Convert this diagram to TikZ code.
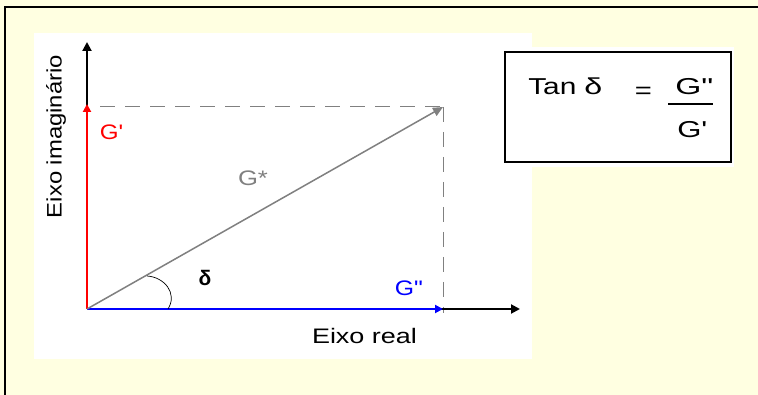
\documentclass[tikz,border=0pt]{standalone}
\usepackage{fontspec}
\newfontfamily\af{Liberation Sans}
\usetikzlibrary{arrows.meta}
\definecolor{bgyellow}{RGB}{255,255,225}
\definecolor{gstar}{RGB}{128,128,128}
\definecolor{gred}{RGB}{255,0,0}
\definecolor{gblue}{RGB}{0,0,255}
\tikzset{
  lbl/.style={inner sep=0pt, font=\af\fontsize{21}{25}\selectfont},
  flbl/.style={inner sep=0pt, font=\af\fontsize{23}{27}\selectfont},
  sx/.style={xscale=#1, transform shape},
  axis/.style={line width=2pt, -{Triangle[length=9pt,width=9pt]}},
  vec/.style={line width=2pt, -{Triangle[length=8pt,width=8pt]}},
  guide/.style={gstar, line width=1pt, dash pattern=on 15pt off 10pt},
}
\begin{document}
\begin{tikzpicture}[x=1pt,y=-1pt]
\useasboundingbox (0,0) rectangle (758,395);
% outer panel
\fill[bgyellow] (0,0) rectangle (758,395);
\draw[line width=2pt] (5,400) -- (5,7) -- (765,7);
% white areas
\fill[white] (34,33) rectangle (532,359);
\fill[white] (503,47) rectangle (734,167);
% coordinates
\coordinate (O) at (87,309);
\coordinate (Ytop) at (87,42);
\coordinate (Xend) at (520,309);
\coordinate (Gp) at (87,104);
\coordinate (Gpp) at (443,309);
\coordinate (P) at (443,107);
\coordinate (Ydash) at (100,107);
% dashed guides
\draw[guide] (Ydash) -- (P);
\draw[guide] (P) -- ([yshift=-4pt]Gpp);
% axes
\draw[axis] (O) -- (Ytop);
\draw[axis] (O) -- (Xend);
% vectors
\draw[vec, gred] (O) -- (Gp);
\draw[vec, gblue] (O) -- (Gpp);
\draw[gstar, line width=1.5pt, -{Triangle[length=10pt,width=9pt]}] (O) -- (P);
% angle arc
\draw[line width=0.7pt] (147,276) .. controls (164,277) and (178,293) .. (168,309);
% labels
\node[lbl, sx=1.15, text=gred] (lGp) at (111.5,132) {G'};
\node[lbl, sx=1.22, text=gstar] (lGs) at (253,178) {G*};
\node[lbl] (ldelta) at (205,278) {\bfseries δ};
\node[lbl, sx=1.18, text=gblue] (lGpp) at (409,288) {G"};
\node[lbl, sx=1.285] (lx) at (364.5,336) {Eixo real};
\node[lbl, rotate=90, sx=1.136] (ly) at (56,136.5) {Eixo imaginário};
% formula box
\node[draw, line width=1.5pt, minimum width=226pt, minimum height=110pt, inner sep=0pt] (box) at (618,107) {};
\node[flbl, sx=1.3, anchor=base west] (tan) at (528,95) {Tan};
\node[flbl, sx=1.4, anchor=base west] (fd) at (584,95) {δ};
\node[flbl, sx=1.27] (eq) at (643.5,93) {=};
\node[flbl, sx=1.46, anchor=base west] (num) at (675,95) {G"};
\coordinate (barL) at (668,104);
\coordinate (barR) at (713,104);
\draw[line width=1.5pt] (barL) -- (barR);
\node[flbl, sx=1.35, anchor=base west] (den) at (677,138) {G'};
\end{tikzpicture}
\end{document}
